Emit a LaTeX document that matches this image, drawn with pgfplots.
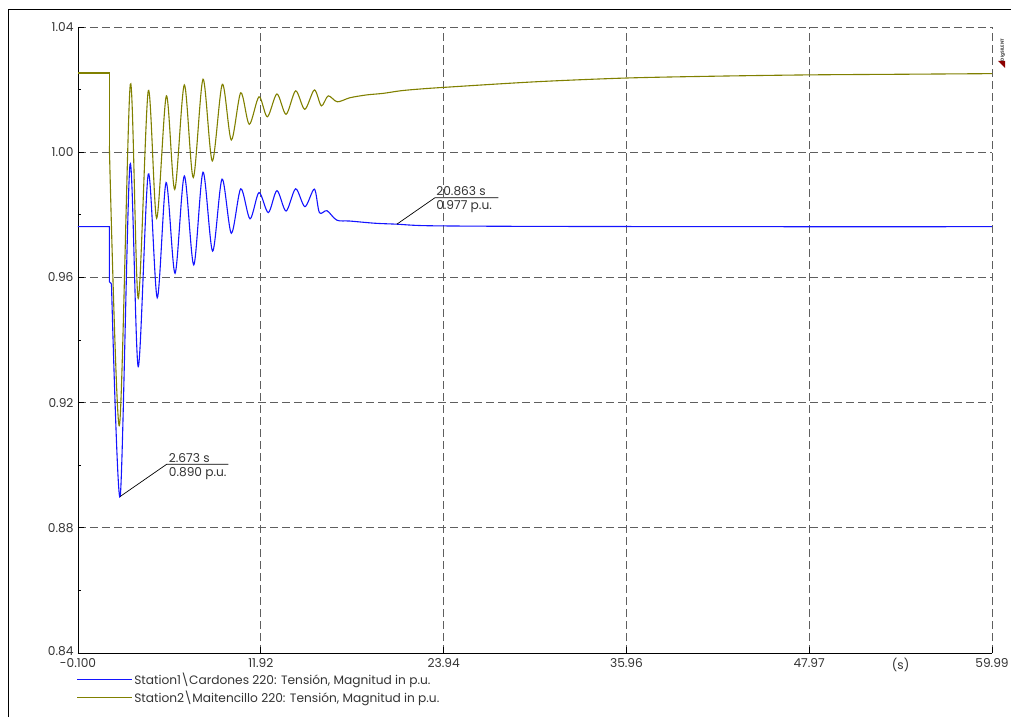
\documentclass[border=0pt]{standalone}
\usepackage{pgfplots}
\pgfplotsset{compat=1.18}
\usepackage{fontspec}
\setmainfont{Poppins}
\definecolor{cblue}{RGB}{20,20,255}
\definecolor{cgold}{RGB}{128,128,0}
\definecolor{cgrid}{RGB}{95,95,95}
\newcommand{\lblfont}{\fontsize{12.2}{14}\selectfont}
\begin{document}
\begin{tikzpicture}
\path[use as bounding box] (-78pt,-64pt) rectangle (933pt,653pt);
\draw[line width=0.8pt] (-70pt,-64pt) -- (-70pt,644pt) -- (933pt,644pt);
\begin{axis}[
  at={(0pt,0pt)}, anchor=south west,
  scale only axis, width=914pt, height=626pt,
  xmin=-0.1, xmax=59.99, ymin=0.84, ymax=1.04,
  axis x line*=bottom, axis y line*=left,
  axis line style={line width=0.9pt, -},
  xtick={-0.1,11.92,23.94,35.96,47.97,59.99},
  xticklabels={-0.100,11.92,23.94,35.96,47.97,59.99},
  ytick={0.84,0.88,0.92,0.96,1.00,1.04},
  yticklabels={\raisebox{3pt}{0.84},0.88,0.92,0.96,1.00,1.04},
  minor x tick num=1, minor y tick num=1,
  tick align=inside,
  major tick length=6pt, minor tick length=3pt,
  tick style={black, line width=0.8pt},
  xmajorgrids, ymajorgrids,
  major grid style={cgrid, line width=0.9pt, dash pattern=on 8pt off 4pt},
  ticklabel style={font=\lblfont, text=black!80},
  xticklabel style={yshift=-2pt},
  yticklabel style={xshift=-1pt},
  /pgf/number format/assume math mode=true,
  legend style={at={(0,0)}, anchor=north west, yshift=-18pt, xshift=-1.5pt,
    draw=none, fill=none, inner sep=0pt, row sep=2pt,
    font=\lblfont,
    nodes={inner sep=1.5pt, anchor=west, text=black!80}},
  legend cell align=left,
  legend image code/.code={\draw[#1] (0pt,0pt) -- (50pt,0pt); \path (0pt,0pt) -- (55pt,0pt);},
  clip=false,
]
% Station1 Cardones (blue)
\addplot[cblue, line width=1.1pt, forget plot] coordinates {
(-0.1,0.9762) (1.96,0.9762) (1.96,0.9586) (2.10,0.9580)
};
\addplot[cblue, line width=1.1pt, smooth, tension=0.5] coordinates {
(2.10,0.9580) (2.673,0.8900) (3.32,0.9961) (3.86,0.9315) (4.52,0.9930)
(5.11,0.9535) (5.69,0.9903) (6.28,0.9613) (6.89,0.9924) (7.51,0.9640)
(8.12,0.9936) (8.75,0.9684) (9.37,0.9914) (9.98,0.9741) (10.60,0.9883)
(11.21,0.9787) (11.80,0.9871) (12.41,0.9807) (12.98,0.9877) (13.58,0.9812)
(14.21,0.9883) (14.82,0.9826) (15.44,0.9882) (15.77,0.9807) (16.27,0.9813)
(16.91,0.9783) (17.78,0.9780) (19.43,0.9773) (20.863,0.9770) (23.0,0.9765)
(30.0,0.9763) (45.0,0.9762) (59.99,0.9762)
};
\addlegendentry{Station1\textbackslash Cardones 220: Tensión, Magnitud in p.u.}
% Station2 Maitencillo (gold)
\addplot[cgold, line width=1.1pt, forget plot] coordinates {
(-0.1,1.0253) (1.96,1.0253) (1.96,1.0020)
};
\addplot[cgold, line width=1.1pt, smooth, tension=0.5] coordinates {
(1.96,1.0020) (2.62,0.9126) (3.34,1.0217) (3.86,0.9533) (4.52,1.0196)
(5.07,0.9789) (5.71,1.0180) (6.26,0.9881) (6.89,1.0215) (7.48,0.9919)
(8.12,1.0233) (8.73,0.9972) (9.39,1.0217) (9.98,1.0039) (10.60,1.0190)
(11.16,1.0089) (11.80,1.0177) (12.35,1.0113) (12.98,1.0186) (13.58,1.0121)
(14.21,1.0196) (14.81,1.0137) (15.44,1.0199) (15.90,1.0148) (16.35,1.0180)
(16.95,1.0161) (17.78,1.0174) (18.88,1.0183) (19.97,1.0188) (21.07,1.0196)
(22.17,1.0201) (23.92,1.0207) (30.0,1.0225) (35.96,1.0237) (42.0,1.0243)
(47.97,1.0247) (54.0,1.0249) (59.99,1.0251)
};
\addlegendentry{Station2\textbackslash Maitencillo 220: Tensión, Magnitud in p.u.}
% (s) label
\node[anchor=north, font=\lblfont, text=black!80, yshift=-2pt, inner sep=3.3pt] at (axis cs:53.98,0.84) {(s)};
% annotations
\draw[black, line width=0.7pt] (axis cs:2.673,0.8900) -- (axis cs:5.73,0.9003) -- (axis cs:9.78,0.9003);
\node[anchor=south west, inner sep=0pt, font=\lblfont, text=black!80] at (axis cs:5.86,0.9009) {2.673 s};
\node[anchor=north west, inner sep=0pt, font=\lblfont, text=black!80] at (axis cs:5.86,0.8994) {0.890 p.u.};
\draw[black, line width=0.7pt] (axis cs:20.863,0.9770) -- (axis cs:23.37,0.98546) -- (axis cs:27.53,0.98546);
\node[anchor=south west, inner sep=0pt, font=\lblfont, text=black!80] at (axis cs:23.44,0.9860) {20.863 s};
\node[anchor=north west, inner sep=0pt, font=\lblfont, text=black!80] at (axis cs:23.44,0.9847) {0.977 p.u.};
\end{axis}
% DIgSILENT mark
\node[rotate=90, anchor=center, font=\fontsize{4.5}{5}\selectfont\bfseries, text=black!70, inner sep=0pt] at (925pt,603pt) {DIgSILENT};
\fill[red!55!black] (920pt,592pt) -- (927pt,592pt) -- (927pt,585pt) -- cycle;
\end{tikzpicture}
\end{document}
